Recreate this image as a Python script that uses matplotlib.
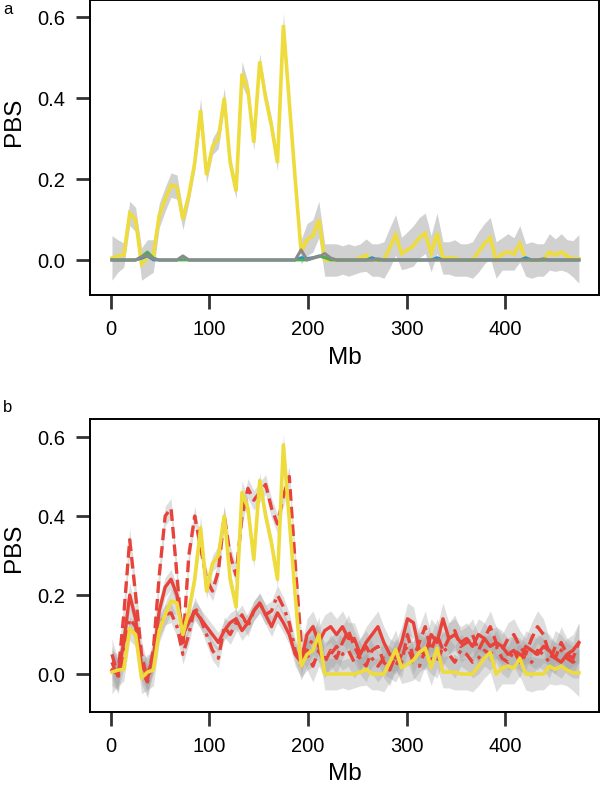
import matplotlib
matplotlib.use("Agg")
import matplotlib.pyplot as plt
import numpy as np

plt.rcParams['font.family'] = ['Liberation Sans', 'DejaVu Sans']

# window positions (Mb)
mb = [1, 7, 13, 19, 25, 31, 37, 43, 49, 55, 61, 67, 73, 79, 85, 91, 97, 103, 109, 115,
      121, 127, 133, 139, 145, 151, 157, 163, 169, 175, 181, 187, 193, 199, 205, 211, 217, 223, 229, 235,
      241, 247, 253, 259, 265, 271, 277, 283, 289, 295, 301, 307, 313, 319, 325, 331, 337, 343, 349, 355,
      361, 367, 373, 379, 385, 391, 397, 403, 409, 415, 421, 427, 433, 439, 445, 451, 457, 463, 469, 475]

yellow = [0.005, 0.01, 0.012, 0.115, 0.10, -0.01, 0.005, 0.01, 0.11, 0.15,
          0.185, 0.18, 0.10, 0.16, 0.24, 0.37, 0.21, 0.28, 0.30, 0.40,
          0.24, 0.17, 0.46, 0.42, 0.29, 0.49, 0.40, 0.33, 0.24, 0.58,
          0.39, 0.20, 0.02, 0.05, 0.06, 0.10, 0.0, 0.0, 0.0, 0.0,
          0.0, 0.0, 0.005, 0.012, 0.0, 0.0, 0.0, 0.03, 0.062, 0.016,
          0.025, 0.035, 0.055, 0.066, 0.016, 0.066, 0.005, 0.005, 0.005, 0.0,
          0.0, 0.0, 0.02, 0.04, 0.055, 0.0, 0.015, 0.02, 0.015, 0.04,
          0.0, 0.0, 0.0, 0.0, 0.02, 0.012, 0.02, 0.01, 0.003, 0.003]
yellow_ci = [0.055, 0.04, 0.03, 0.03, 0.03, 0.04, 0.045, 0.04, 0.03, 0.03,
             0.03, 0.03, 0.025, 0.02, 0.02, 0.03, 0.02, 0.02, 0.025, 0.025,
             0.02, 0.02, 0.03, 0.02, 0.02, 0.02, 0.02, 0.02, 0.02, 0.03,
             0.02, 0.02, 0.03, 0.04, 0.04, 0.045, 0.04, 0.04, 0.04, 0.035,
             0.04, 0.035, 0.035, 0.04, 0.04, 0.04, 0.045, 0.05, 0.05, 0.04,
             0.045, 0.05, 0.05, 0.05, 0.045, 0.05, 0.04, 0.04, 0.045, 0.04,
             0.04, 0.045, 0.05, 0.05, 0.05, 0.045, 0.04, 0.045, 0.04, 0.045,
             0.04, 0.045, 0.04, 0.04, 0.045, 0.04, 0.045, 0.04, 0.045, 0.06]

grey_a = [0.0, 0.0, 0.0, 0.0, 0.0, 0.008, 0.012, 0.003, 0.0, 0.0,
          0.0, 0.0, 0.01, 0.0, 0.0, 0.0, 0.0, 0.0, 0.0, 0.0,
          0.0, 0.0, 0.0, 0.0, 0.0, 0.0, 0.0, 0.0, 0.0, 0.0,
          0.0, 0.0, 0.025, 0.0, 0.005, 0.008, 0.016, 0.005, 0.0, 0.0,
          0.0, 0.0, 0.0, 0.0, 0.0, 0.003, 0.0, 0.0, 0.0, 0.0,
          0.0, 0.0, 0.0, 0.0, 0.0, 0.0, 0.0, 0.0, 0.0, 0.0,
          0.0, 0.0, 0.0, 0.0, 0.0, 0.0, 0.0, 0.0, 0.0, 0.0,
          0.0, 0.0, 0.0, 0.003, 0.0, 0.0, 0.0, 0.0, 0.0, 0.0]
blue_a = [0.0, 0.0, 0.0, 0.0, 0.0, 0.004, 0.01, 0.0, 0.0, 0.0,
          0.0, 0.0, 0.008, 0.0, 0.0, 0.0, 0.0, 0.0, 0.0, 0.0,
          0.0, 0.0, 0.0, 0.0, 0.0, 0.0, 0.0, 0.0, 0.0, 0.0,
          0.0, 0.0, 0.006, 0.004, 0.006, 0.01, 0.006, 0.004, 0.0, 0.0,
          0.0, 0.0, 0.0, 0.0, 0.006, 0.0, 0.0, 0.0, 0.0, 0.0,
          0.0, 0.0, 0.0, 0.0, 0.0, 0.006, 0.0, 0.0, 0.0, 0.0,
          0.0, 0.0, 0.0, 0.0, 0.0, 0.0, 0.0, 0.0, 0.0, 0.0,
          0.006, 0.0, 0.0, 0.0, 0.0, 0.0, 0.0, 0.0, 0.0, 0.0]
green_a = [0.0, 0.0, 0.0, 0.0, 0.0, 0.008, 0.02, 0.005, 0.0, 0.0,
           0.0, 0.0, 0.0, 0.0, 0.0, 0.0, 0.0, 0.0, 0.0, 0.0,
           0.0, 0.0, 0.0, 0.0, 0.0, 0.0, 0.0, 0.0, 0.0, 0.0,
           0.0, 0.0, 0.0, 0.0, 0.004, 0.01, 0.006, 0.0, 0.0, 0.0,
           0.0, 0.0, 0.0, 0.0, 0.0, 0.0, 0.0, 0.0, 0.0, 0.0,
           0.0, 0.0, 0.0, 0.0, 0.0, 0.0, 0.0, 0.0, 0.0, 0.0,
           0.0, 0.0, 0.0, 0.0, 0.0, 0.0, 0.0, 0.0, 0.0, 0.0,
           0.0, 0.0, 0.0, 0.0, 0.0, 0.0, 0.0, 0.0, 0.0, 0.0]

red_solid = [0.01, 0.0, 0.08, 0.20, 0.14, 0.02, 0.0, 0.04, 0.16, 0.22,
             0.24, 0.20, 0.10, 0.13, 0.16, 0.14, 0.12, 0.10, 0.08, 0.11,
             0.13, 0.14, 0.11, 0.13, 0.16, 0.18, 0.15, 0.12, 0.155, 0.13,
             0.10, 0.05, 0.03, 0.10, 0.12, 0.08, 0.11, 0.12, 0.10, 0.12,
             0.09, 0.09, 0.05, 0.08, 0.10, 0.12, 0.08, 0.05, 0.04, 0.08,
             0.14, 0.13, 0.06, 0.05, 0.10, 0.08, 0.14, 0.09, 0.10, 0.08,
             0.09, 0.07, 0.10, 0.09, 0.07, 0.08, 0.07, 0.05, 0.06, 0.03,
             0.07, 0.06, 0.05, 0.07, 0.06, 0.04, 0.03, 0.05, 0.06, 0.08]
red_dashed = [0.05, -0.005, 0.15, 0.34, 0.20, 0.05, -0.015, 0.06, 0.25, 0.40,
              0.42, 0.25, 0.07, 0.30, 0.40, 0.32, 0.24, 0.21, 0.26, 0.40,
              0.30, 0.25, 0.40, 0.47, 0.44, 0.46, 0.48, 0.42, 0.38, 0.45,
              0.50, 0.28, 0.08, 0.05, 0.02, 0.06, 0.03, 0.06, 0.04, 0.08,
              0.11, 0.07, 0.04, 0.02, 0.06, 0.07, 0.03, 0.01, 0.05, 0.03,
              0.10, 0.04, 0.08, 0.12, 0.06, 0.10, 0.06, 0.09, 0.11, 0.07,
              0.08, 0.10, 0.06, 0.09, 0.12, 0.08, 0.06, 0.09, 0.10, 0.07,
              0.05, 0.09, 0.12, 0.10, 0.05, 0.04, 0.08, 0.05, 0.04, 0.08]
red_dotdash = [0.03, -0.01, 0.05, 0.14, 0.12, 0.01, -0.02, 0.04, 0.12, 0.15,
               0.155, 0.12, 0.05, 0.10, 0.17, 0.14, 0.10, 0.06, 0.04, 0.12,
               0.10, 0.13, 0.15, 0.12, 0.16, 0.18, 0.15, 0.16, 0.20, 0.17,
               0.13, 0.06, 0.02, 0.06, 0.09, 0.07, 0.04, 0.05, 0.07, 0.05,
               0.06, 0.03, 0.05, 0.07, 0.04, 0.02, 0.04, 0.03, 0.02, 0.05,
               0.07, 0.03, 0.02, 0.06, 0.04, 0.03, 0.07, 0.05, 0.03, 0.06,
               0.05, 0.03, 0.04, 0.06, 0.05, 0.07, 0.04, 0.03, 0.06, 0.05,
               0.04, 0.03, 0.06, 0.05, 0.03, 0.07, 0.06, 0.04, 0.03, 0.04]
red_ci = [0.04, 0.04, 0.035, 0.03, 0.03, 0.035, 0.04, 0.035, 0.03, 0.025,
          0.025, 0.025, 0.025, 0.025, 0.025, 0.025, 0.025, 0.025, 0.025, 0.025,
          0.025, 0.025, 0.025, 0.025, 0.025, 0.025, 0.025, 0.025, 0.025, 0.025,
          0.025, 0.03, 0.035, 0.04, 0.04, 0.04, 0.04, 0.04, 0.04, 0.04,
          0.04, 0.04, 0.04, 0.04, 0.04, 0.04, 0.04, 0.04, 0.04, 0.04,
          0.04, 0.04, 0.04, 0.04, 0.04, 0.04, 0.04, 0.04, 0.04, 0.04,
          0.04, 0.04, 0.04, 0.04, 0.04, 0.04, 0.04, 0.04, 0.04, 0.04,
          0.04, 0.04, 0.04, 0.04, 0.04, 0.04, 0.04, 0.04, 0.04, 0.05]

xticks = [0, 100, 200, 300, 400]
yticks = [0.0, 0.2, 0.4, 0.6]
ytick_labels = ["0.0", "0.2", "0.4", "0.6"]

YEL = "#EEDC3C"
RED = "#E8433A"
BLUE = "#2A8FCF"
GREEN = "#4CAF50"
GREY = "#8A8A8A"
BAND = "#9a9a9a"

W, H = 601, 788
fig = plt.figure(figsize=(W / 100, H / 100), dpi=100)


def px_axes(l, t, r, b):
    return fig.add_axes([l / W, 1 - b / H, (r - l) / W, (b - t) / H])


def style(ax, ylim):
    ax.set_xlim(-21.3, 495.4)
    ax.set_ylim(*ylim)
    ax.set_xticks(xticks)
    ax.set_xticklabels([str(v) for v in xticks])
    ax.set_yticks(yticks)
    ax.set_yticklabels(ytick_labels)
    ax.tick_params(direction="out", length=10, width=2, color="#333333",
                   labelsize=14.5, pad=8)
    for s in ax.spines.values():
        s.set_linewidth(1.4)
        s.set_color("black")


x = np.array(mb)

def band(ax, y, ci, alpha=0.45):
    y = np.array(y); ci = np.array(ci)
    ax.fill_between(x, y - ci, y + ci, color=BAND, alpha=alpha, lw=0)

# panel a
ax1 = px_axes(90, 0, 599, 295)
band(ax1, yellow, yellow_ci)
ax1.plot(x, yellow, color=YEL, lw=2.6, solid_joinstyle="miter")
ax1.plot(x, blue_a, color=BLUE, lw=2.0)
ax1.plot(x, green_a, color=GREEN, lw=2.0)
ax1.plot(x, grey_a, color=GREY, lw=2.2)
style(ax1, (-0.0864, 0.642))

# panel b
ax2 = px_axes(90, 419, 599, 712)
band(ax2, red_dashed, red_ci, 0.32)
band(ax2, red_dotdash, red_ci, 0.32)
band(ax2, red_solid, red_ci, 0.32)
band(ax2, yellow, yellow_ci, 0.32)
ax2.plot(x, red_dashed, color=RED, lw=2.4, dashes=(3.5, 1.8))
ax2.plot(x, red_dotdash, color=RED, lw=2.4, dashes=(3.5, 1.8, 1, 1.8))
ax2.plot(x, red_solid, color=RED, lw=2.4)
ax2.plot(x, yellow, color=YEL, lw=2.6)
style(ax2, (-0.096, 0.6456))

# labels
for yc, lab in [(122, "PBS"), (548, "PBS")]:
    fig.text(14 / W, 1 - yc / H, lab, rotation=90, ha="center", va="center", fontsize=17.5)
for yc in (358, 774):
    fig.text(344.5 / W, 1 - yc / H, "Mb", ha="center", va="center", fontsize=17.5)
fig.text(8 / W, 1 - 10 / H, "a", ha="center", va="center", fontsize=12)
fig.text(8 / W, 1 - 408 / H, "b", ha="center", va="center", fontsize=12)

fig.savefig("out.png", dpi=100)
